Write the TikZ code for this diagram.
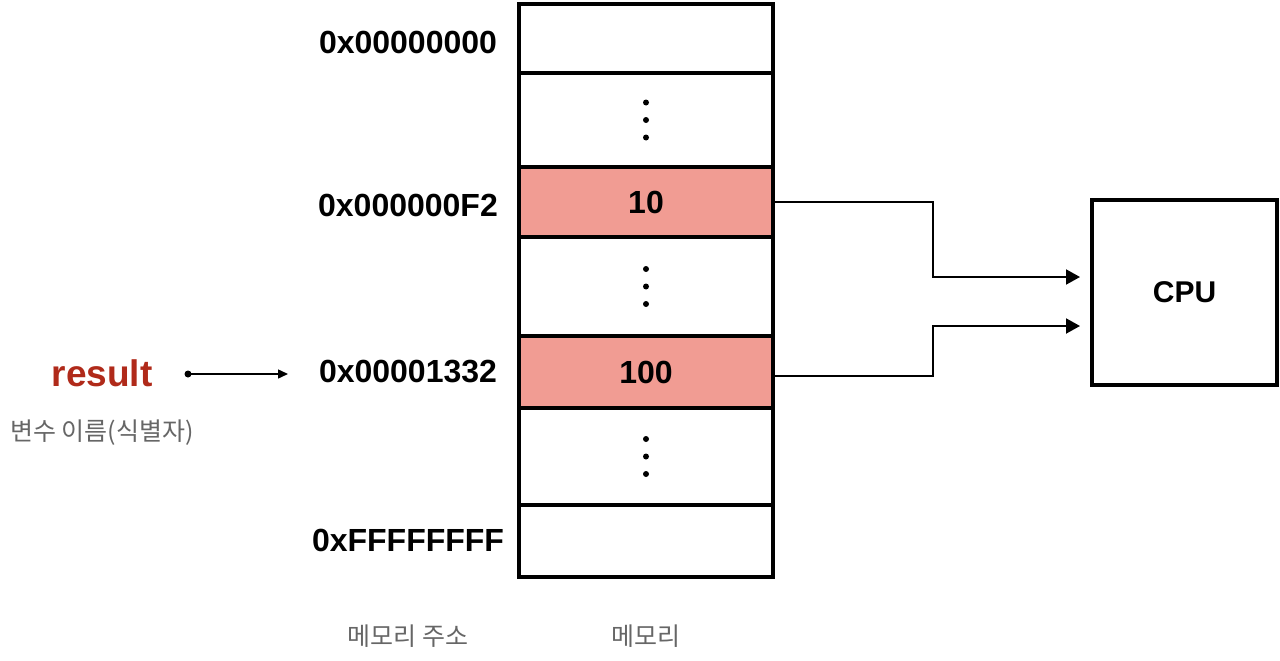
\documentclass[tikz,border=0pt]{standalone}
\usepackage{fontspec}
\setmainfont{Liberation Sans}
\newfontfamily\kofont{Noto Sans CJK KR}
\usetikzlibrary{arrows.meta}
\definecolor{cellred}{RGB}{241,156,147}
\definecolor{varred}{RGB}{176,42,26}
\definecolor{notegray}{RGB}{102,102,102}
\tikzset{
	cell/.style={draw, line width=4pt, minimum width=254pt, inner sep=0pt, font=\fontsize{32}{36}\selectfont\bfseries},
	addr/.style={font=\fontsize{32}{36}\selectfont\bfseries},
	note/.style={text=notegray, font=\kofont\fontsize{25}{28}\selectfont},
	wire/.style={line width=2pt, -{Triangle[length=14pt,width=15pt]}},
}
\begin{document}
\begin{tikzpicture}[x=1pt, y=-1pt]
		\useasboundingbox (0,0) rectangle (1280,661);
		% memoria
		\node[cell, minimum height=69pt] (c1) at (646,38.5) {};
		\node[cell, minimum height=94pt] (c2) at (646,120) {};
		\node[cell, minimum height=70pt, fill=cellred] (c3) at (646,202) {10};
		\node[cell, minimum height=99pt] (c4) at (646,286.5) {};
		\node[cell, minimum height=72pt, fill=cellred] (c5) at (646,372) {100};
		\node[cell, minimum height=97pt] (c6) at (646,456.5) {};
		\node[cell, minimum height=72pt] (c7) at (646,541) {};
		% puntini
		\foreach \cc in {c2,c4,c6}
			\foreach \dy in {-17.5,0,17.5}
				\fill ([yshift=\dy pt]\cc.center) circle (3pt);
		% indirizzi
		\node[addr] (a1) at (408,42) {0x00000000};
		\node[addr] (a3) at (408,205) {0x000000F2};
		\node[addr] (a5) at (408,372) {0x00001332};
		\node[addr] (a7) at (408,540) {0xFFFFFFFF};
		% variabile
		\node[text=varred, font=\fontsize{37}{40}\selectfont\bfseries] (var) at (102,373) {result};
		\node[note] (varnote) at (102,433) {변수 이름(식별자)};
		\coordinate (dot) at (188,374);
		\coordinate (tip) at (288,374);
		\fill (dot) circle (3.5pt);
		\draw[line width=1.5pt, -{Triangle[length=10pt,width=9pt]}] (dot) -- (tip);
		% CPU
		\node[draw, line width=4pt, minimum width=185pt, minimum height=185pt, font=\fontsize{30}{34}\selectfont\bfseries] (cpu) at (1184.5,292.5) {CPU};
		\coordinate (in1) at (1080,277);
		\coordinate (in2) at (1080,326);
		\draw[wire] (c3.east) -- ++(158,0) |- (in1);
		\draw[wire] ([yshift=-4pt]c5.east) -- ++(158,0) |- (in2);
		% didascalie
		\node[note] (addrnote) at (408,636) {메모리 주소};
		\node[note] (memnote) at (646,636) {메모리};
	\end{tikzpicture}
\end{document}
